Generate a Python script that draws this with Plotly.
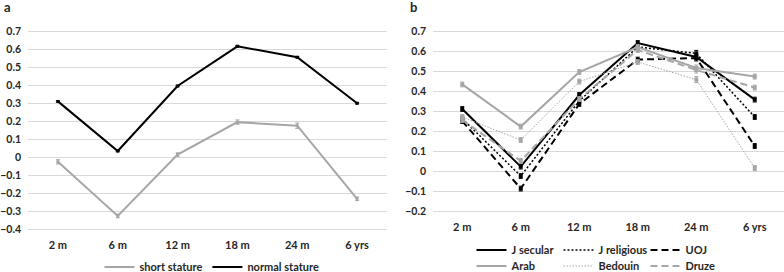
import plotly.graph_objects as go

categories = ['2 m', '6 m', '12 m', '18 m', '24 m', '6 yrs']

# Panel a
short_stature = [-0.025, -0.325, 0.015, 0.195, 0.175, -0.23]
short_err = [0.012, 0.01, 0.01, 0.012, 0.015, 0.01]
normal_stature = [0.31, 0.035, 0.395, 0.615, 0.555, 0.30]
normal_err = [0.004, 0.004, 0.004, 0.004, 0.004, 0.004]

# Panel b
j_secular = [0.31, 0.022, 0.38, 0.64, 0.57, 0.357]
j_religious = [0.262, -0.025, 0.35, 0.62, 0.588, 0.27]
uoj = [0.25, -0.088, 0.335, 0.557, 0.565, 0.125]
arab = [0.433, 0.222, 0.495, 0.62, 0.515, 0.472]
bedouin = [0.27, 0.155, 0.447, 0.545, 0.457, 0.015]
druze = [0.255, 0.05, 0.36, 0.605, 0.505, 0.417]
b_err = [0.012, 0.012, 0.012, 0.012, 0.015, 0.012]

BLACK = '#000000'
GRAY = '#A6A6A6'
FONT = 'Lato'

fig = go.Figure()

def add(y, name, color, width, dash, xa, ya, legend, err, msize=4):
    fig.add_trace(go.Scatter(
        x=categories, y=y, name=name, mode='lines',
        line=dict(color=color, width=width, dash=dash),
        xaxis=xa, yaxis=ya, legend=legend, legendgroup=name,
    ))
    fig.add_trace(go.Scatter(
        x=categories, y=y, name=name, mode='markers', showlegend=False,
        marker=dict(symbol='square', size=msize, color=color),
        error_y=dict(type='data', array=err, color=color, thickness=1, width=2),
        xaxis=xa, yaxis=ya, legendgroup=name,
    ))

add(short_stature, 'short stature', GRAY, 2, 'solid', 'x', 'y', 'legend', short_err, 3)
add(normal_stature, 'normal stature', BLACK, 2, 'solid', 'x', 'y', 'legend', normal_err, 3)

add(j_secular, 'J secular', BLACK, 2, 'solid', 'x2', 'y2', 'legend2', b_err)
add(j_religious, 'J religious', BLACK, 1.5, '2px,2px', 'x2', 'y2', 'legend2', b_err)
add(uoj, 'UOJ', BLACK, 2, '7px,4px', 'x2', 'y2', 'legend2', b_err)
add(arab, 'Arab', GRAY, 2, 'solid', 'x2', 'y2', 'legend3', b_err)
add(bedouin, 'Bedouin', GRAY, 1, '1.5px,1.5px', 'x2', 'y2', 'legend3', b_err)
add(druze, 'Druze', GRAY, 2, '7px,4px', 'x2', 'y2', 'legend3', b_err)

tickfont = dict(family=FONT, size=10.5, color='#262626', weight='bold')
yax = dict(showgrid=True, gridcolor='#D9D9D9', gridwidth=1, zeroline=False,
           showline=False, ticks='', tickfont=tickfont, dtick=0.1,
           tickformat='.1~f', ticklabelstandoff=6, automargin=False)
xax = dict(showgrid=False, zeroline=False, showline=False, ticks='',
           tickfont=dict(tickfont, size=11), type='category', range=[-0.5, 5.5],
           ticklabelstandoff=6, automargin=False)

legfont = dict(family=FONT, size=11, color='#262626', weight='bold')
leg = dict(orientation='h', font=legfont, bgcolor='rgba(0,0,0,0)',
           itemwidth=30, tracegroupgap=0, xanchor='center', yanchor='middle')

fig.update_layout(
    template='none',
    width=784, height=272,
    margin=dict(l=0, r=0, t=0, b=0, autoexpand=False),
    paper_bgcolor='white', plot_bgcolor='white',
    showlegend=True,
    xaxis=dict(xax, domain=[28/784, 387/784], anchor='y'),
    yaxis=dict(yax, domain=[1-231.3/272, 1-29.2/272], range=[-0.41, 0.71], anchor='x'),
    xaxis2=dict(xax, domain=[433/784, 1.0], anchor='y2'),
    yaxis2=dict(yax, domain=[1-213/272, 1-29/272], range=[-0.21, 0.71], anchor='x2'),
    legend=dict(leg, x=212/784, y=1-267/272),
    legend2=dict(leg, x=602/784, y=1-250/272, entrywidth=42, entrywidthmode='pixels'),
    legend3=dict(leg, x=602/784, y=1-266/272, entrywidth=42, entrywidthmode='pixels'),
    annotations=[
        dict(text='a', x=8/784, y=1-7/272, xref='paper', yref='paper',
             showarrow=False, font=dict(family=FONT, size=13, color='#262626', weight='bold'),
             xanchor='center', yanchor='middle'),
        dict(text='b', x=413/784, y=1-7/272, xref='paper', yref='paper',
             showarrow=False, font=dict(family=FONT, size=13, color='#262626', weight='bold'),
             xanchor='center', yanchor='middle'),
    ],
)

fig.write_html('out.html')
